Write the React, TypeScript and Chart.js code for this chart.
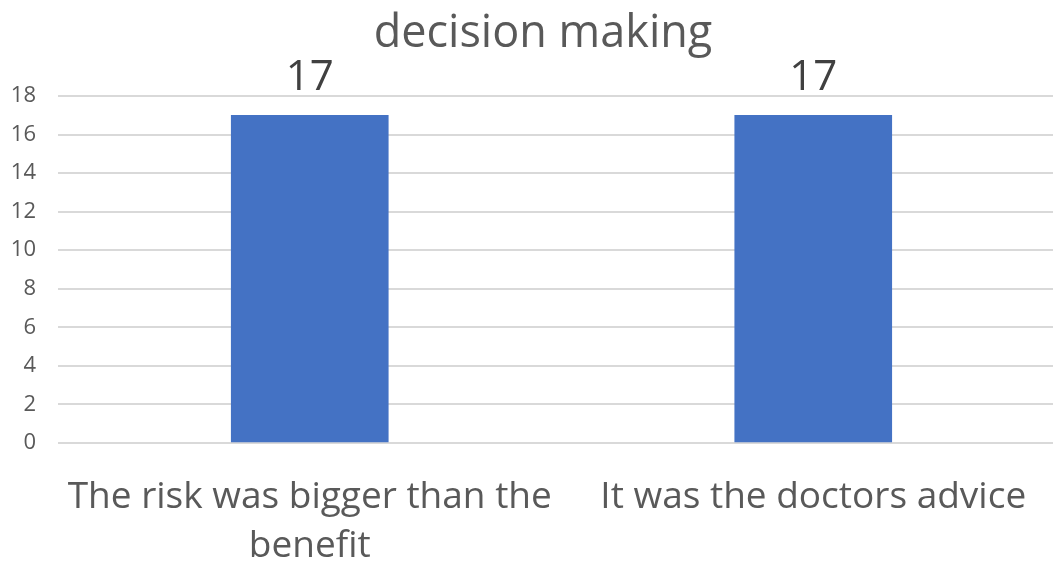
import React, { useEffect, useRef } from "react";
import { Chart, registerables } from "chart.js";

Chart.register(...registerables);

const titleText = "decision making";
const categories: (string | string[])[] = [
  ["The risk was bigger than the", "benefit"],
  "It was the doctors advice",
];
const values = [17, 17];
const yTicks = [0, 2, 4, 6, 8, 10, 12, 14, 16, 18];

const FONT = "'Open Sans', 'Noto Sans', sans-serif";

const overlayPlugin = {
  id: "overlay",
  afterDatasetsDraw(chart: any) {
    const ctx = chart.ctx;
    ctx.save();
    // title
    ctx.fillStyle = "#595959";
    ctx.font = `45px ${FONT}`;
    ctx.textAlign = "center";
    ctx.textBaseline = "alphabetic";
    ctx.fillText(titleText, 543, 47);
    // data labels
    const meta = chart.getDatasetMeta(0);
    ctx.fillStyle = "#404040";
    ctx.font = `42px ${FONT}`;
    meta.data.forEach((bar: any, i: number) => {
      ctx.fillText(String(values[i]), bar.x, bar.y - 25);
    });
    ctx.restore();
  },
};

export default function App() {
  const ref = useRef<HTMLCanvasElement>(null);
  useEffect(() => {
    if (!ref.current) return;
    const chart = new Chart(ref.current, {
      type: "bar",
      data: {
        labels: categories,
        datasets: [
          {
            data: values,
            backgroundColor: "#4472C4",
            borderWidth: 0,
            barThickness: 157,
          },
        ],
      },
      options: {
        responsive: false,
        animation: false,
        layout: { padding: { top: 96, left: 0, right: 0, bottom: 0 } },
        plugins: {
          legend: { display: false },
          title: { display: false },
          tooltip: { enabled: false },
        },
        scales: {
          y: {
            min: 0,
            max: 18,
            afterBuildTicks(scale: any) {
              scale.ticks = yTicks.map((v) => ({ value: v }));
            },
            afterFit(scale: any) {
              scale.width = 58;
            },
            ticks: {
              color: "#595959",
              font: { family: FONT, size: 22 },
              padding: 22,
            },
            grid: {
              color: "#d9d9d9",
              lineWidth: 2,
              drawTicks: false,
              tickLength: 0,
            },
            border: { display: false },
          },
          x: {
            afterFit(scale: any) {
              scale.height = 122;
            },
            ticks: {
              color: "#595959",
              font: { family: FONT, size: 37, lineHeight: 1.35 },
              padding: 29,
              maxRotation: 0,
              autoSkip: false,
            },
            grid: { display: false, drawTicks: false },
            border: { display: false },
          },
        },
      },
      plugins: [overlayPlugin],
    });
    return () => chart.destroy();
  }, []);
  return (
    <div
      style={{
        position: "fixed",
        left: 0,
        top: 0,
        width: 1053,
        height: 565,
        overflow: "hidden",
        background: "#fff",
      }}
    >
      <canvas ref={ref} width={1065} height={565} style={{ display: "block" }} />
    </div>
  );
}
